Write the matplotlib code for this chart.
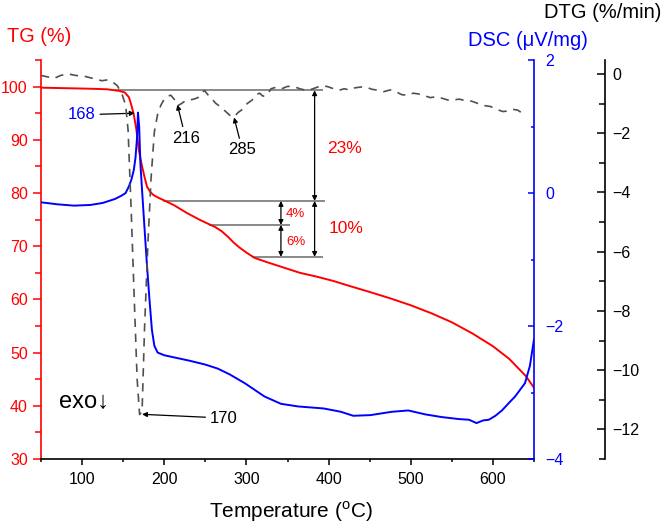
import matplotlib
matplotlib.use("Agg")
import matplotlib.pyplot as plt
from matplotlib.ticker import MultipleLocator

plt.rcParams['font.family'] = ['Liberation Sans', 'DejaVu Sans']
plt.rcParams['mathtext.fontset'] = 'custom'
plt.rcParams['mathtext.rm'] = 'Liberation Sans'

# ---------------- data ----------------
T_tg = [50, 80, 110, 130, 145, 152, 157, 160, 163, 166, 169, 173, 176, 179, 183, 187, 193,
        200, 212, 228, 244, 255, 262, 270, 278, 285, 292, 300, 310, 325, 345, 365, 385, 405,
        426, 450, 475, 500, 525, 550, 575, 600, 620, 640, 650]
tg = [99.8, 99.7, 99.6, 99.5, 99.2, 98.9, 98.0, 96.5, 94.7, 92.0, 88.1, 85.0, 83.0, 81.2, 80.2,
      79.6, 79.1, 78.6, 77.7, 76.2, 74.9, 74.1, 73.6, 72.8, 71.7, 70.6, 69.7, 68.8, 67.8, 67.0,
      66.0, 65.0, 64.3, 63.5, 62.5, 61.4, 60.2, 58.9, 57.4, 55.7, 53.6, 51.2, 48.8, 45.6, 43.4]

T_dsc = [50, 70, 90, 110, 125, 140, 148, 153, 157, 160, 163, 165, 167, 168, 169.5, 171, 174,
         177, 179, 182, 185, 188, 192, 200, 215, 230, 250, 265, 280, 298, 322, 342, 363, 394,
         415, 430, 451, 477, 497, 518, 538, 559, 571, 580, 588, 595, 603, 611, 620, 627, 633,
         639, 645, 650]
dsc = [-0.14, -0.17, -0.19, -0.18, -0.15, -0.09, -0.04, 0.0, 0.1, 0.2, 0.35, 0.53, 0.85, 1.21,
       1.0, 0.43, -0.15, -0.72, -1.09, -1.6, -2.06, -2.3, -2.4, -2.44, -2.48, -2.52, -2.58,
       -2.64, -2.73, -2.86, -3.06, -3.17, -3.21, -3.24, -3.29, -3.35, -3.34, -3.29, -3.27,
       -3.33, -3.37, -3.40, -3.41, -3.46, -3.42, -3.41, -3.35, -3.27, -3.15, -3.06, -2.96,
       -2.86, -2.6, -2.2]

T_dtg = [50, 58, 66, 74, 83, 92, 103, 113, 124, 131, 137, 143, 149, 153, 156, 160, 164, 167,
         170, 173, 176, 180, 184, 188, 192, 196, 200, 204, 208, 212, 216, 221, 226, 231, 236,
         241, 245, 249, 253, 258, 263, 268, 274, 280, 285, 290, 295, 301, 307, 312, 316, 320,
         325, 330, 336, 343, 350, 358, 365, 372, 379, 386, 393, 399, 406, 413, 419, 425, 432,
         440, 447, 453, 460, 467, 475, 482, 489, 496, 503, 510, 517, 524, 531, 538, 545, 552,
         559, 566, 574, 582, 590, 597, 605, 612, 619, 625, 630, 636, 640]
dtg = [-0.05, -0.1, -0.15, -0.05, 0.0, -0.05, -0.08, -0.15, -0.23, -0.2, -0.27, -0.4, -0.72,
       -1.05, -1.9, -4.8, -8.0, -10.3, -11.5, -11.4, -8.6, -5.8, -3.5, -1.95, -1.35, -1.05,
       -0.85, -0.75, -0.72, -0.85, -1.08, -1.0, -0.9, -0.88, -0.85, -0.8, -0.65, -0.56, -0.7,
       -0.85, -1.0, -1.1, -1.25, -1.4, -1.45, -1.3, -1.2, -1.0, -0.88, -0.7, -0.65, -0.75,
       -0.72, -0.5, -0.45, -0.5, -0.42, -0.43, -0.5, -0.55, -0.52, -0.45, -0.4, -0.43, -0.5,
       -0.55, -0.5, -0.54, -0.47, -0.44, -0.46, -0.52, -0.55, -0.6, -0.54, -0.6, -0.7, -0.72,
       -0.65, -0.68, -0.74, -0.8, -0.77, -0.82, -0.88, -0.88, -0.85, -0.9, -0.92, -1.0, -1.07,
       -1.1, -1.2, -1.27, -1.25, -1.2, -1.22, -1.33, -1.3]

# mass-loss steps (TG levels, %) and labels
tg_levels = [99.3, 78.5, 74.0, 68.0]
loss_labels = ['23%', '10%', '4%', '6%']
peak_labels = ['168', '216', '285', '170']

# ---------------- figure ----------------
W, H = 665, 527
fig = plt.figure(figsize=(W / 100, H / 100), dpi=100)
L, R, B, Tp = 41, 534, 459, 60
ax = fig.add_axes([L / W, 1 - B / H, (R - L) / W, (B - Tp) / H])
ax_dsc = ax.twinx()
ax_dtg = ax.twinx()

red, blue = '#ff0000', '#0000ff'

ax_dtg.plot(T_dtg, dtg, color='#505050', lw=1.2, linestyle=(0, (5, 4)))
ax.plot(T_tg, tg, color=red, lw=1.4, zorder=3)
ax_dsc.plot(T_dsc, dsc, color=blue, lw=1.4)

ax.set_xlim(50, 650)
ax.set_ylim(30, 105)
ax_dsc.set_ylim(-4, 2)
ax_dtg.set_ylim(-13, 0.47)

# main axis styling
for s in ['top', 'right']:
    ax.spines[s].set_visible(False)
ax.spines['left'].set_color(red)
ax.spines['left'].set_linewidth(1.2)
ax.spines['bottom'].set_linewidth(1.2)
ax.xaxis.set_major_locator(MultipleLocator(100))
ax.xaxis.set_minor_locator(MultipleLocator(50))
ax.yaxis.set_major_locator(MultipleLocator(10))
ax.yaxis.set_minor_locator(MultipleLocator(5))
ax.tick_params(axis='x', which='major', length=4.5, width=1.1, labelsize=11.5, pad=5)
ax.tick_params(axis='x', which='minor', length=2.5, width=1.1)
ax.tick_params(axis='y', which='both', colors=red, labelcolor=red, labelsize=11.5, width=1.1,
               pad=3.5)
ax.tick_params(axis='y', which='major', length=6)
ax.tick_params(axis='y', which='minor', length=4)
ax.set_yticks([30, 40, 50, 60, 70, 80, 90, 100])

# DSC axis
for s in ['top', 'left', 'bottom']:
    ax_dsc.spines[s].set_visible(False)
ax_dsc.spines['right'].set_color(blue)
ax_dsc.spines['right'].set_linewidth(1.2)
ax_dsc.yaxis.set_major_locator(MultipleLocator(2))
ax_dsc.yaxis.set_minor_locator(MultipleLocator(1))
ax_dsc.tick_params(axis='y', which='both', direction='in', colors=blue, labelcolor=blue,
                   labelsize=11.5, width=1.1, pad=8)
ax_dsc.tick_params(axis='y', which='major', length=4)
ax_dsc.tick_params(axis='y', which='minor', length=2.5)

# DTG axis (offset)
for s in ['top', 'left', 'bottom']:
    ax_dtg.spines[s].set_visible(False)
ax_dtg.spines['right'].set_position(('axes', (605 - L) / (R - L)))
ax_dtg.spines['right'].set_linewidth(1.2)
ax_dtg.set_yticks([0, -2, -4, -6, -8, -10, -12])
ax_dtg.yaxis.set_minor_locator(MultipleLocator(1))
ax_dtg.tick_params(axis='y', which='both', direction='in', labelsize=11.5, width=1.1, pad=5.5)
ax_dtg.tick_params(axis='y', which='major', length=6)
ax_dtg.tick_params(axis='y', which='minor', length=4)

# axis titles
def ftxt(x, y, s, **kw):
    fig.text(x / W, 1 - y / H, s, **kw)

ftxt(7, 36, 'TG (%)', color=red, fontsize=14.3, ha='left', va='center')
ftxt(528, 40, 'DSC (\u03bcV/mg)', color=blue, fontsize=14.5, ha='center', va='center')
ftxt(603, 12, 'DTG (%/min)', color='black', fontsize=14.5, ha='center', va='center')
ftxt(291, 512, r'Temperature ($^{\rm o}$C)', color='black', fontsize=15, ha='center',
     va='center')

# step lines
lc = '#6a6a6a'
ax.hlines(tg_levels[0], 140, 393, color=lc, lw=1.1, zorder=2)
ax.hlines(tg_levels[1], 198, 396, color=lc, lw=1.1, zorder=2)
ax.hlines(tg_levels[2], 255, 353, color=lc, lw=1.1, zorder=2)
ax.hlines(tg_levels[3], 307, 393, color=lc, lw=1.1, zorder=2)

ap2 = dict(arrowstyle='<|-|>', color='black', lw=0.9, mutation_scale=7, shrinkA=0, shrinkB=0)
ax.annotate('', xy=(383, tg_levels[1]), xytext=(383, tg_levels[0]), arrowprops=ap2)
ax.annotate('', xy=(383, tg_levels[3]), xytext=(383, tg_levels[1]), arrowprops=ap2)
ax.annotate('', xy=(342, tg_levels[2]), xytext=(342, tg_levels[1]), arrowprops=ap2)
ax.annotate('', xy=(342, tg_levels[3]), xytext=(342, tg_levels[2]), arrowprops=ap2)

ax.text(419, 88.3, loss_labels[0], color=red, fontsize=12.5, ha='center', va='center')
ax.text(421, 73.3, loss_labels[1], color=red, fontsize=12.5, ha='center', va='center')
ax.text(360, 76.0, loss_labels[2], color=red, fontsize=9.5, ha='center', va='center')
ax.text(360, 70.7, loss_labels[3], color=red, fontsize=9.5, ha='center', va='center')

ap1 = dict(arrowstyle='-|>', color='black', lw=0.9, mutation_scale=7, shrinkA=1, shrinkB=0)
ax.annotate(peak_labels[0], xy=(164, 95.0), xytext=(100, 94.7), color=blue, fontsize=12,
            ha='center', va='center', arrowprops=ap1)
ax.annotate(peak_labels[1], xy=(216, 96.6), xytext=(226, 90.3), color='black', fontsize=12,
            ha='center', va='center', arrowprops=ap1)
ax.annotate(peak_labels[2], xy=(285, 94.2), xytext=(295, 88.1), color='black', fontsize=12,
            ha='center', va='center', arrowprops=ap1)
ax.annotate(peak_labels[3], xy=(173, 38.4), xytext=(272, 37.7), color='black', fontsize=12,
            ha='center', va='center', arrowprops=ap1)

ax.text(72, 40.8, 'exo\u2193', color='black', fontsize=17, ha='left', va='center')

fig.savefig('out.png', dpi=100)
